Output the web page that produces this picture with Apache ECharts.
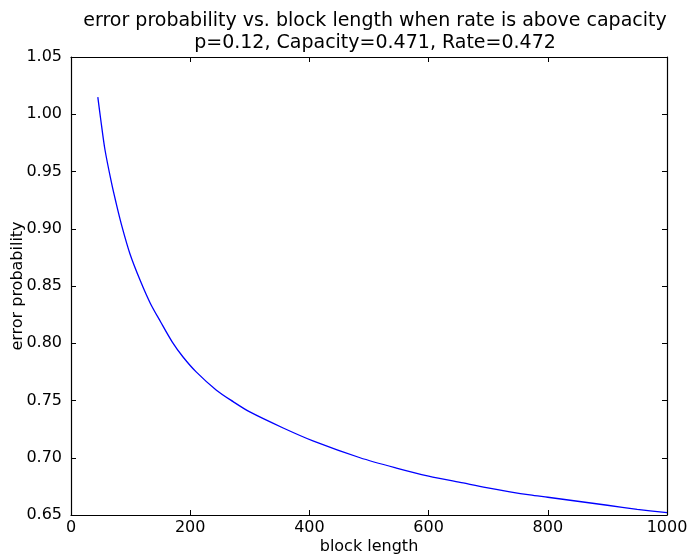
<!DOCTYPE html>
<html>
<head>
<meta charset="utf-8">
<script src="https://cdn.jsdelivr.net/npm/echarts@6/dist/echarts.min.js"></script>
<style>html,body{margin:0;padding:0;background:#fff}#c{width:690px;height:554px}</style>
</head>
<body>
<div id="c"></div>
<script>
const blockLength = [45, 50, 57, 68, 75, 85, 99, 116, 133, 150, 170, 188, 210, 244, 272, 300, 356, 407, 485, 546, 600, 658, 697, 770, 800, 850, 900, 950, 1000];
const errorProb = [1.015, 0.995, 0.969, 0.940, 0.924, 0.903, 0.878, 0.855, 0.835, 0.819, 0.801, 0.788, 0.775, 0.759, 0.749, 0.740, 0.726, 0.7145, 0.700, 0.691, 0.684, 0.678, 0.674, 0.6675, 0.6655, 0.662, 0.6585, 0.655, 0.652];
const titleText = 'error probability vs. block length when rate is above capacity\np=0.12, Capacity=0.471, Rate=0.472';

const FONT = 'DejaVu Sans';
const chart = echarts.init(document.getElementById('c'));
const axisCommon = {
  axisLine: {show: true, onZero: false, lineStyle: {color: '#000', width: 1.2}},
  axisTick: {show: true, inside: true, length: 5, lineStyle: {color: '#000'}},
  splitLine: {show: false}
};
chart.setOption({
  animation: false,
  backgroundColor: '#fff',
  textStyle: {fontFamily: FONT},
  title: {
    text: titleText,
    left: 370, top: 5, textAlign: 'center',
    textStyle: {fontFamily: FONT, fontWeight: 'normal', fontSize: 19, color: '#000', lineHeight: 22}
  },
  grid: {left: 71, right: 23, top: 57, bottom: 39, containLabel: false, outerBoundsMode: 'none'},
  xAxis: [
    Object.assign({
      type: 'value', min: 0, max: 1000, interval: 200, position: 'bottom',
      name: 'block length', nameLocation: 'middle', nameGap: 24, nameMoveOverlap: false,
      nameTextStyle: {fontFamily: FONT, fontSize: 16, color: '#000'},
      axisLabel: {fontFamily: FONT, fontSize: 16, color: '#000', margin: 5, formatter: v => String(v)}
    }, axisCommon),
    Object.assign({
      type: 'value', min: 0, max: 1000, interval: 200, position: 'top',
      axisLabel: {show: false}
    }, axisCommon)
  ],
  yAxis: [
    Object.assign({
      type: 'value', min: 0.65, max: 1.05, interval: 0.05, position: 'left',
      name: 'error probability', nameLocation: 'middle', nameGap: 45, nameMoveOverlap: false,
      nameTextStyle: {fontFamily: FONT, fontSize: 16, color: '#000'},
      axisLabel: {fontFamily: FONT, fontSize: 16, color: '#000', margin: 9,
        formatter: v => v.toFixed(2)}
    }, axisCommon),
    Object.assign({
      type: 'value', min: 0.65, max: 1.05, interval: 0.05, position: 'right',
      axisLabel: {show: false}
    }, axisCommon)
  ],
  series: [{
    type: 'line',
    data: blockLength.map((x, i) => [x, errorProb[i]]),
    showSymbol: false,
    smooth: 0.3,
    lineStyle: {color: '#0000ff', width: 1.3},
    itemStyle: {color: '#0000ff'}
  }]
});
</script>
</body>
</html>
